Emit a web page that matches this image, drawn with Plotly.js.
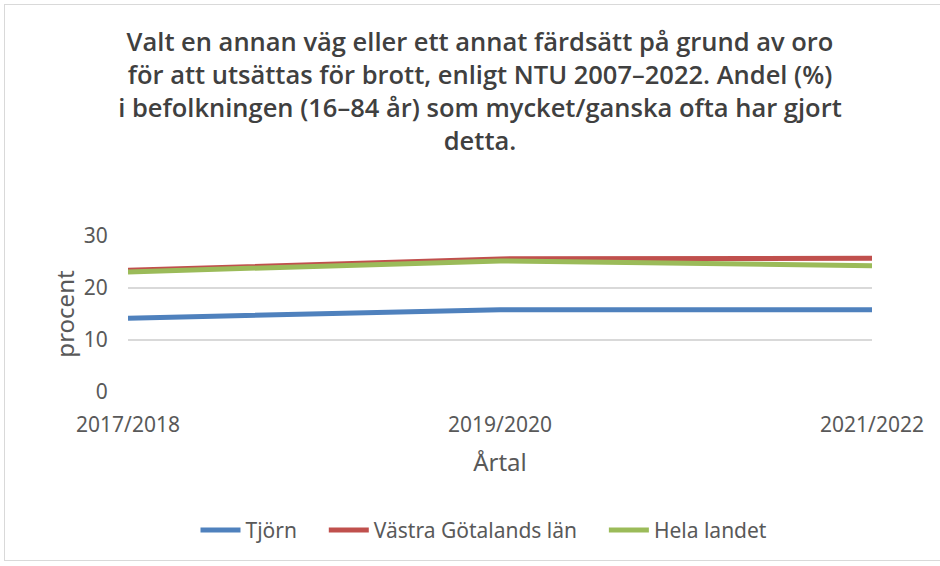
<!DOCTYPE html>
<html>
<head>
<meta charset="utf-8">
<script src="https://cdn.plot.ly/plotly-3.0.1.min.js"></script>
<style>
body{margin:0;padding:0;background:#fff;}
#wrap{position:relative;width:940px;height:566px;}
#chart{width:940px;height:566px;}
#frame{position:absolute;left:4px;top:4px;width:940px;height:557px;border:1px solid #d9d9d9;pointer-events:none;box-sizing:border-box;}
</style>
</head>
<body>
<div id="wrap"><div id="chart"></div><div id="frame"></div></div>
<script>
const years = ["2017/2018", "2019/2020", "2021/2022"];
const tjorn = [14.2, 15.8, 15.8];
const vgl = [23.4, 25.6, 25.7];
const helaLandet = [23.1, 25.2, 24.3];
const seriesNames = ["Tjörn", "Västra Götalands län", "Hela landet"];

const tickFont = {family: "Noto Sans, Open Sans, sans-serif", size: 21, color: "#595959"};
const axTitleFont = {family: "Noto Sans, sans-serif", size: 24, color: "#595959"};
const pad = "\u00a0\u00a0\u00a0\u00a0";

const traces = [
  {x: years, y: tjorn, name: seriesNames[0] + pad, type: "scatter", mode: "lines", line: {color: "#4f81bd", width: 5}},
  {x: years, y: vgl, name: seriesNames[1] + pad, type: "scatter", mode: "lines", line: {color: "#c0504d", width: 5}},
  {x: years, y: helaLandet, name: seriesNames[2], type: "scatter", mode: "lines", line: {color: "#9bbb59", width: 5}}
];

const layout = {
  width: 940, height: 566,
  paper_bgcolor: "#fff", plot_bgcolor: "#fff",
  margin: {l: 128, r: 68, t: 236, b: 174},
  title: {
    text: "Valt en annan väg eller ett annat färdsätt på grund av oro<br>för att utsättas för brott, enligt NTU 2007–2022. Andel (%)<br>i befolkningen (16–84 år) som mycket/ganska ofta har gjort<br>detta.",
    font: {family: "Open Sans, Noto Sans, sans-serif", size: 25.5, weight: 600, color: "#404040"},
    x: 480 / 940, xanchor: "center", xref: "container",
    y: 0.91, yanchor: "top"
  },
  xaxis: {
    type: "category", range: [0, 2],
    showgrid: false, zeroline: false, showline: false,
    ticks: "outside", ticklen: 14, tickcolor: "rgba(0,0,0,0)",
    tickfont: tickFont,
    title: {text: "Årtal", font: axTitleFont, standoff: 16}
  },
  yaxis: {
    range: [0, 30], dtick: 10,
    showgrid: true, gridcolor: "#d9d9d9", gridwidth: 1.5,
    zeroline: false, showline: false,
    ticks: "outside", ticklen: 15, tickcolor: "rgba(0,0,0,0)",
    tickfont: tickFont,
    title: {text: "procent", font: axTitleFont, standoff: 2}
  },
  legend: {
    orientation: "h", x: 484 / 940, xanchor: "center", xref: "container",
    y: 0.063, yref: "container", yanchor: "middle",
    font: {family: "Noto Sans, sans-serif", size: 21, color: "#595959"},
    itemwidth: 40, tracegroupgap: 0
  },
  showlegend: true
};

Plotly.newPlot("chart", traces, layout, {displayModeBar: false, staticPlot: true});
</script>
</body>
</html>
